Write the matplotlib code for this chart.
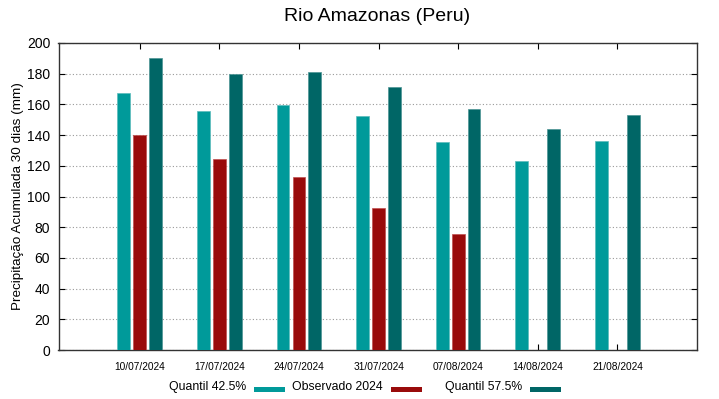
import numpy as np
import matplotlib
matplotlib.use("Agg")
import matplotlib.pyplot as plt
from matplotlib.patches import Rectangle

plt.rcParams['font.family'] = ['Liberation Sans', 'DejaVu Sans']

# data
dates = ['10/07/2024', '17/07/2024', '24/07/2024', '31/07/2024',
         '07/08/2024', '14/08/2024', '21/08/2024']
q425 = [167.2, 155.7, 159.8, 152.4, 135.3, 122.9, 136.0]
obs2024 = [140.1, 124.6, 112.7, 92.3, 75.8, np.nan, np.nan]
q575 = [190.0, 180.0, 181.1, 171.3, 156.8, 143.8, 153.1]
labels = ['Quantil 42.5%', 'Observado 2024', 'Quantil 57.5%']

c_low = '#009a9a'
c_obs = '#990b0b'
c_high = '#006666'

W, H = 719, 399
fig = plt.figure(figsize=(W / 100, H / 100), dpi=100)
ax = fig.add_axes([58.5 / W, 49 / H, (697 - 58.5) / W, (350 - 43) / H])

x = np.arange(len(dates))
w = 0.16
off = 0.2
b1 = ax.bar(x - off, q425, w, color=c_low, edgecolor='#5cbcbc', linewidth=0.5, zorder=3)
b2 = ax.bar(x, obs2024, w, color=c_obs, edgecolor='#c05050', linewidth=0.5, zorder=3)
b3 = ax.bar(x + off, q575, w, color=c_high, edgecolor='#4d9494', linewidth=0.5, zorder=3)

ax.set_xlim(-1.02, 7.0)
ax.set_ylim(0, 200)
ax.set_yticks(np.arange(0, 201, 20))
ax.set_xticks(x)
ax.set_xticklabels(dates, fontsize=7.3)
ax.tick_params(axis='x', direction='in', length=4, top=True, pad=9, width=0.8)
ax.tick_params(axis='y', direction='in', length=4, right=True, labelsize=10, width=0.8, pad=6)
ax.yaxis.grid(True, linestyle=(0, (1, 2)), color='#999999', linewidth=0.8)
ax.set_axisbelow(True)
for s in ax.spines.values():
    s.set_linewidth(1.0)
    s.set_color('#333333')

ax.set_ylabel('Precipitação Acumulada 30 dias (mm)', fontsize=9.7, labelpad=2)
fig.text(377.5 / W, 1 - 16.5 / H, 'Rio Amazonas (Peru)', ha='center', va='center', fontsize=14)

# key below the plot, gnuplot style: text then colour sample
text_right = [246, 383, 522]
for lab, xr, col in zip(labels, text_right, [c_low, c_obs, c_high]):
    fig.text(xr / W, 1 - 387 / H, lab, ha='right', va='center', fontsize=8.8)
    fig.add_artist(Rectangle(((xr + 8) / W, 1 - 391.5 / H), 31 / W, 5 / H,
                             transform=fig.transFigure, facecolor=col, edgecolor='none'))

fig.savefig('out.png', dpi=100)
